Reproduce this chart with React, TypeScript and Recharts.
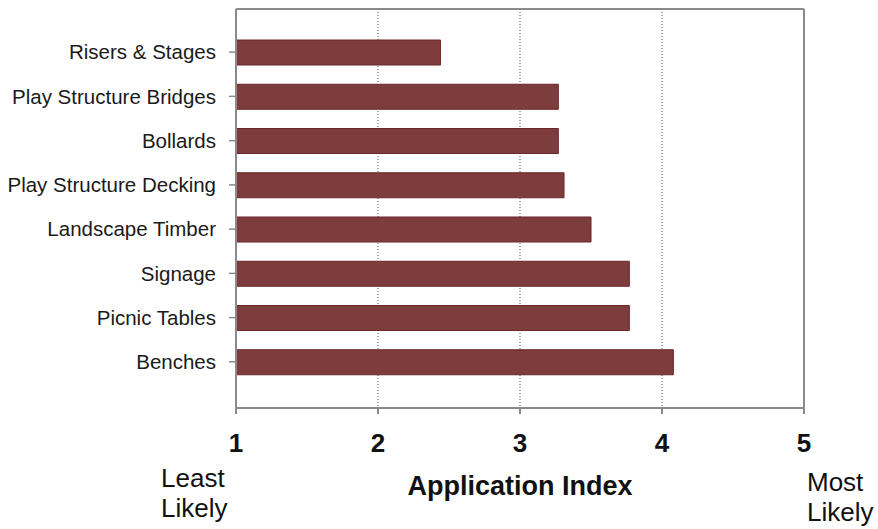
import React from 'react';
import { BarChart, Bar, XAxis, YAxis, CartesianGrid } from 'recharts';

const categories = [
  'Risers & Stages',
  'Play Structure Bridges',
  'Bollards',
  'Play Structure Decking',
  'Landscape Timber',
  'Signage',
  'Picnic Tables',
  'Benches',
];
const indexValues = [2.44, 3.27, 3.27, 3.31, 3.5, 3.77, 3.77, 4.08];
const xTicks = [1, 2, 3, 4, 5];
const leftCaption = ['Least', 'Likely'];
const rightCaption = ['Most', 'Likely'];
const axisTitle = 'Application Index';

const data = categories.map((name, i) => ({ name, value: indexValues[i] }));

const FONT = '"Liberation Sans", Arial, Helvetica, sans-serif';
const AXIS = '#8a8a8a';

const XTick = (props: any) => {
  const { x, y, payload } = props;
  const v = payload.value;
  let caption: string[] | null = null;
  let dx = 0;
  let shift = 0;
  if (v === xTicks[0]) {
    caption = leftCaption;
    dx = -75;
  } else if (v === xTicks[xTicks.length - 1]) {
    caption = rightCaption;
    dx = 3;
    shift = 4;
  }
  return (
    <g>
      <text x={x} y={y + 36} textAnchor="middle" fontFamily={FONT} fontSize={26} fontWeight="bold" fill="#111">
        {v}
      </text>
      {caption &&
        caption.map((line, i) => (
          <text key={line + i} x={x + dx} y={y + 71 + shift + i * 30} textAnchor="start" fontFamily={FONT} fontSize={26} fill="#111">
            {line}
          </text>
        ))}
    </g>
  );
};

const TitleLabel = (props: any) => {
  const { viewBox } = props;
  return (
    <text
      x={viewBox.x + viewBox.width / 2}
      y={viewBox.y + 87}
      textAnchor="middle"
      fontFamily={FONT}
      fontSize={27}
      fontWeight="bold"
      fill="#111"
    >
      {axisTitle}
    </text>
  );
};

// plot frame: top edge and right edge of the plot area
const frameTop = (args: any) => {
  const o = args && args.offset;
  return o ? [o.top] : [];
};
const frameRight = (args: any) => {
  const o = args && args.offset;
  return o ? [o.left + o.width] : [];
};

export default function App() {
  return (
    <div style={{ position: 'absolute', left: 0, top: 0, width: 878, height: 529, background: '#fff' }}>
      <BarChart
        width={878}
        height={529}
        data={data}
        layout="vertical"
        margin={{ top: 9, right: 74, left: 0, bottom: 0 }}
      >
        <CartesianGrid horizontal={false} stroke="#555" strokeDasharray="1 2" />
        <CartesianGrid
          stroke={AXIS}
          strokeWidth={2}
          horizontalCoordinatesGenerator={frameTop}
          verticalCoordinatesGenerator={frameRight}
        />
        <XAxis
          type="number"
          domain={[1, 5]}
          ticks={xTicks}
          allowDataOverflow
          height={121}
          tickSize={6}
          tickLine={{ stroke: AXIS, strokeWidth: 2 }}
          axisLine={{ stroke: AXIS, strokeWidth: 2 }}
          tick={<XTick />}
          interval={0}
          label={<TitleLabel />}
        />
        <YAxis
          type="category"
          dataKey="name"
          width={236}
          padding={{ top: 21, bottom: 24 }}
          tickSize={7}
          tickMargin={13}
          tickLine={{ stroke: AXIS, strokeWidth: 1.5 }}
          axisLine={{ stroke: AXIS, strokeWidth: 2 }}
          tick={{ fontFamily: FONT, fontSize: 20.5, fill: '#1a1a1a' }}
          interval={0}
        />
        <Bar
          dataKey="value"
          barSize={25}
          fill="#7e3d3d"
          stroke="#6a2727"
          strokeWidth={1}
          isAnimationActive={false}
        />
      </BarChart>
    </div>
  );
}
